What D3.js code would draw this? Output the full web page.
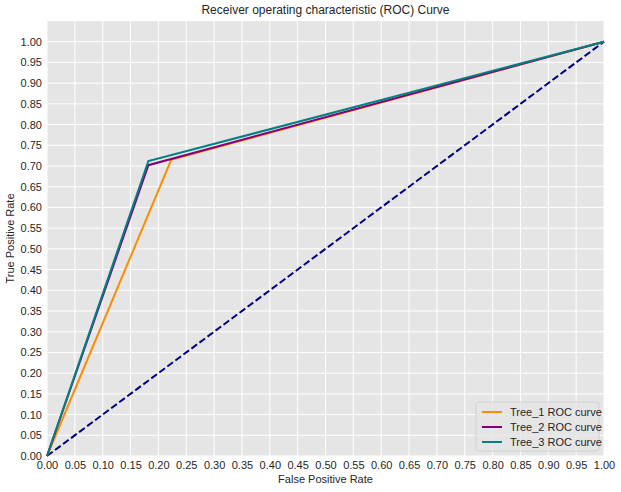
<!DOCTYPE html>
<html><head><meta charset="utf-8">
<script src="https://cdn.jsdelivr.net/npm/d3@7"></script>
<style>body{margin:0;background:#fff;font-family:"Liberation Sans",Arial,sans-serif;}</style>
</head><body>
<svg id="chart" width="621" height="492"></svg>
<script>
var series_names = ["Tree_1 ROC curve", "Tree_2 ROC curve", "Tree_3 ROC curve"];
var series_colors = ["darkorange", "purple", "teal"];
var fpr = [[0, 0.223, 1], [0, 0.182, 1], [0, 0.182, 1]];
var tpr = [[0, 0.715, 1], [0, 0.702, 1], [0, 0.712, 1]];
var diag = [0, 1];
var ticks = d3.range(0, 21).map(d => d * 0.05);

var m_left = 47, m_right = 604, m_top = 21, m_bottom = 456;
var font = "Liberation Sans, Arial, sans-serif";
const svg = d3.select("#chart");
var x = d3.scaleLinear().domain([0, 1]).range([m_left, m_right]);
var y = d3.scaleLinear().domain([0, 1.05]).range([m_bottom, m_top]);

svg.append("rect").attr("x", m_left).attr("y", m_top)
    .attr("width", m_right - m_left).attr("height", m_bottom - m_top).attr("fill", "#e5e5e5");

// grid
svg.append("g").selectAll("line").data(ticks).enter().append("line")
    .attr("x1", d => x(d)).attr("x2", d => x(d)).attr("y1", m_top).attr("y2", m_bottom)
    .attr("stroke", "#fff").attr("stroke-width", 1);
svg.append("g").selectAll("line").data(ticks).enter().append("line")
    .attr("y1", d => y(d)).attr("y2", d => y(d)).attr("x1", m_left).attr("x2", m_right)
    .attr("stroke", "#fff").attr("stroke-width", 1);

var xa = svg.append("g").attr("transform", "translate(0," + m_bottom + ")")
    .call(d3.axisBottom(x).tickValues(ticks).tickFormat(d3.format(".2f")).tickSize(0).tickPadding(5));
var ya = svg.append("g").attr("transform", "translate(" + m_left + ",0)")
    .call(d3.axisLeft(y).tickValues(ticks).tickFormat(d3.format(".2f")).tickSize(0).tickPadding(5));
[xa, ya].forEach(a => {
    a.select(".domain").remove();
    a.selectAll("text").attr("font-size", 11).attr("fill", "#262626").attr("font-family", font);
});

var line = d3.line().x(d => x(d[0])).y(d => y(d[1]));
svg.append("path").datum(diag.map(d => [d, d])).attr("d", line)
    .attr("fill", "none").attr("stroke", "navy").attr("stroke-width", 2).attr("stroke-dasharray", "7,3");
series_names.forEach((n, i) => {
    svg.append("path").datum(fpr[i].map((v, j) => [v, tpr[i][j]])).attr("d", line)
        .attr("fill", "none").attr("stroke", series_colors[i]).attr("stroke-width", 2);
});

svg.append("text").attr("x", (m_left + m_right) / 2).attr("y", 14).attr("text-anchor", "middle")
    .attr("font-family", font).attr("font-size", 12).attr("fill", "#262626")
    .text("Receiver operating characteristic (ROC) Curve");
svg.append("text").attr("x", (m_left + m_right) / 2).attr("y", 483).attr("text-anchor", "middle")
    .attr("font-family", font).attr("font-size", 11).attr("fill", "#262626").text("False Positive Rate");
svg.append("text").attr("transform", "translate(14," + ((m_top + m_bottom) / 2) + ") rotate(-90)")
    .attr("text-anchor", "middle").attr("font-family", font).attr("font-size", 11)
    .attr("fill", "#262626").text("True Positive Rate");

// legend
var lg = svg.append("g").attr("transform", "translate(476,402)");
lg.append("rect").attr("width", 123).attr("height", 49).attr("rx", 3)
    .attr("fill", "#e5e5e5").attr("stroke", "#ccc").attr("stroke-width", 0.8).attr("fill-opacity", 0.8);
series_names.forEach((n, i) => {
    lg.append("line").attr("x1", 6).attr("x2", 26).attr("y1", 10 + i * 15).attr("y2", 10 + i * 15)
        .attr("stroke", series_colors[i]).attr("stroke-width", 2);
    lg.append("text").attr("x", 34).attr("y", 14 + i * 15).attr("font-family", font).attr("font-size", 11)
        .attr("fill", "#262626").text(n);
});
</script>
</body></html>
